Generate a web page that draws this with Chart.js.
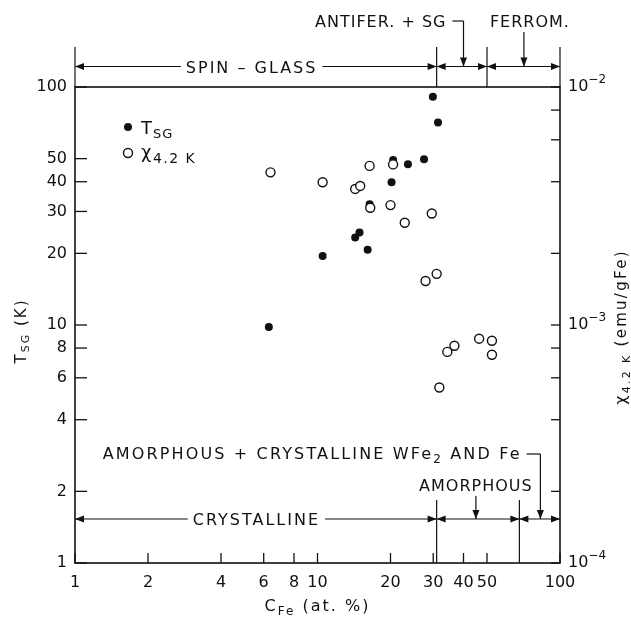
<!DOCTYPE html>
<html>
<head>
<meta charset="utf-8">
<title>T_SG and chi(4.2K) vs Fe concentration</title>
<script src="https://cdn.jsdelivr.net/npm/chart.js@4.4.0/dist/chart.umd.min.js"></script>
<style>
  html, body { margin: 0; padding: 0; background: #ffffff; }
  canvas { display: block; }
</style>
</head>
<body>
<canvas id="chart" width="631" height="617"></canvas>
<script>
// Axis ticks
const concTicks = [1, 2, 4, 6, 8, 10, 20, 30, 40, 50, 100];
const tsgTicks = [1, 2, 4, 6, 8, 10, 20, 30, 40, 50, 100];
const chiTicks = [1e-4, 2e-4, 4e-4, 6e-4, 8e-4, 1e-3, 2e-3, 4e-3, 6e-3, 8e-3, 1e-2];
const chiDecades = [1e-4, 1e-3, 1e-2];
const chiDecadeExps = ['−4', '−3', '−2'];

// Spin-glass temperature (filled circles, left axis)
const tsgConc = [6.3, 10.5, 14.3, 14.9, 16.1, 16.4, 20.2, 20.5, 23.6, 27.5, 29.9, 31.4];
const tsgValues = [9.8, 19.5, 23.3, 24.5, 20.7, 32.2, 39.8, 49.3, 47.4, 49.7, 91, 71];

// Susceptibility at 4.2 K (open circles, right axis, emu/gFe)
const chiConc = [6.4, 10.5, 14.3, 15.0, 16.4, 16.5, 20.0, 20.5, 22.9, 27.9, 29.6, 31.0, 31.8, 34.3, 36.7, 46.4, 52.4, 52.4];
const chiValues = [4.38e-3, 3.98e-3, 3.73e-3, 3.84e-3, 4.66e-3, 3.11e-3, 3.19e-3, 4.73e-3, 2.69e-3,
    1.53e-3, 2.94e-3, 1.64e-3, 5.46e-4, 7.71e-4, 8.18e-4, 8.76e-4, 8.59e-4, 7.50e-4];

// Region boundaries (at. % Fe)
const magneticBounds = [1, 31, 50, 100];
const structureBounds = [1, 31, 68, 100];
const antiferArrowAt = 40;
const ferroArrowAt = 71;
const amorphousArrowAt = 45;
const mixedArrowAt = 83;

const FONT = '"DejaVu Sans", sans-serif';
const font = (size) => size + 'px ' + FONT;

function richText(ctx, parts, x, y, align, spacing) {
    ctx.save();
    ctx.letterSpacing = (spacing || 0) + 'px';
    ctx.textBaseline = 'alphabetic';
    ctx.textAlign = 'left';
    let width = 0;
    for (const p of parts) {
        ctx.font = font(p.size);
        width += ctx.measureText(p.text).width;
    }
    let cx = align === 'center' ? x - width / 2 : (align === 'right' ? x - width : x);
    for (const p of parts) {
        ctx.font = font(p.size);
        ctx.fillText(p.text, cx, y + (p.dy || 0));
        cx += ctx.measureText(p.text).width;
    }
    ctx.restore();
    return width;
}

function arrowHead(ctx, x, y, dir) {
    const len = 9, half = 3.5;
    ctx.beginPath();
    ctx.moveTo(x, y);
    if (dir === 'left') { ctx.lineTo(x + len, y - half); ctx.lineTo(x + len, y + half); }
    if (dir === 'right') { ctx.lineTo(x - len, y - half); ctx.lineTo(x - len, y + half); }
    if (dir === 'down') { ctx.lineTo(x - half, y - len); ctx.lineTo(x + half, y - len); }
    ctx.closePath();
    ctx.fill();
}

function segment(ctx, x1, y1, x2, y2) {
    ctx.beginPath();
    ctx.moveTo(x1, y1);
    ctx.lineTo(x2, y2);
    ctx.stroke();
}

function regionRow(ctx, xScale, bounds, y) {
    for (let i = 0; i < bounds.length - 1; i++) {
        const a = xScale.getPixelForValue(bounds[i]);
        const b = xScale.getPixelForValue(bounds[i + 1]);
        segment(ctx, a, y, b, y);
        arrowHead(ctx, a, y, 'left');
        arrowHead(ctx, b, y, 'right');
    }
}

function gapLabel(ctx, text, x, y) {
    ctx.save();
    ctx.font = font(16);
    ctx.letterSpacing = '2px';
    const w = ctx.measureText(text).width;
    ctx.fillStyle = '#ffffff';
    ctx.fillRect(x - w / 2 - 5, y - 5, w + 10, 10);
    ctx.restore();
    richText(ctx, [{ text, size: 16 }], x, y + 6, 'center', 2);
}

const decorations = {
    id: 'decorations',
    afterDraw(chart) {
        const ctx = chart.ctx;
        const area = chart.chartArea;
        const xs = chart.scales.x;
        const ys = chart.scales.y;
        const ys2 = chart.scales.y2;
        ctx.save();
        ctx.strokeStyle = '#111111';
        ctx.fillStyle = '#111111';

        // frame
        ctx.lineWidth = 1.6;
        ctx.strokeRect(area.left, area.top, area.right - area.left, area.bottom - area.top);

        // inward tick marks
        ctx.lineWidth = 1.3;
        concTicks.forEach((v) => {
            const px = xs.getPixelForValue(v);
            segment(ctx, px, area.bottom, px, area.bottom - 10);
        });
        tsgTicks.forEach((v) => {
            const py = ys.getPixelForValue(v);
            segment(ctx, area.left, py, area.left + 12, py);
        });
        chiTicks.forEach((v) => {
            const py = ys2.getPixelForValue(v);
            segment(ctx, area.right, py, area.right - 9, py);
        });

        // right axis decade labels
        chiDecades.forEach((v, i) => {
            const py = ys2.getPixelForValue(v);
            richText(ctx, [
                { text: '10', size: 16 },
                { text: chiDecadeExps[i], size: 12, dy: -8 },
            ], area.right + 8, py + 4, 'left', 0);
        });

        // axis titles
        ctx.save();
        ctx.translate(20, (area.top + area.bottom) / 2 + 6);
        ctx.rotate(-Math.PI / 2);
        richText(ctx, [
            { text: 'T', size: 15 },
            { text: 'SG', size: 11, dy: 3 },
            { text: ' (K)', size: 15 },
        ], 0, 5.5, 'center', 2);
        ctx.restore();

        ctx.save();
        ctx.translate(620, (area.top + area.bottom) / 2 + 2);
        ctx.rotate(-Math.PI / 2);
        richText(ctx, [
            { text: 'χ', size: 16 },
            { text: '4.2 K', size: 11, dy: 4 },
            { text: ' (emu/gFe)', size: 15 },
        ], 0, 5.5, 'center', 2.3);
        ctx.restore();

        richText(ctx, [
            { text: 'C', size: 16 },
            { text: 'Fe', size: 12, dy: 4 },
            { text: ' (at. %)', size: 16 },
        ], (area.left + area.right) / 2, 611, 'center', 2);

        // legend
        ctx.lineWidth = 1.4;
        ctx.beginPath();
        ctx.arc(area.left + 53, area.top + 40, 4, 0, Math.PI * 2);
        ctx.fill();
        richText(ctx, [{ text: 'T', size: 18 }, { text: 'SG', size: 13, dy: 4 }], area.left + 66, area.top + 46.5, 'left', 1);
        ctx.beginPath();
        ctx.arc(area.left + 53, area.top + 66, 4.5, 0, Math.PI * 2);
        ctx.stroke();
        richText(ctx, [{ text: 'χ', size: 18 }, { text: '4.2 K', size: 14, dy: 5 }], area.left + 66, area.top + 71, 'left', 1.5);

        // magnetic regions above the frame
        ctx.lineWidth = 1.2;
        const topRowY = area.top - 20.5;
        magneticBounds.forEach((v) => {
            const px = xs.getPixelForValue(v);
            segment(ctx, px, area.top - 40, px, area.top);
        });
        regionRow(ctx, xs, magneticBounds, topRowY);
        gapLabel(ctx, 'SPIN – GLASS', xs.getPixelForValue(5.35), topRowY);

        const antiX = xs.getPixelForValue(antiferArrowAt);
        richText(ctx, [{ text: 'ANTIFER. + SG', size: 16 }], antiX - 17, area.top - 60, 'right', 1);
        segment(ctx, antiX - 11, area.top - 66, antiX, area.top - 66);
        segment(ctx, antiX, area.top - 66, antiX, topRowY);
        arrowHead(ctx, antiX, topRowY, 'down');

        const ferroX = xs.getPixelForValue(ferroArrowAt);
        richText(ctx, [{ text: 'FERROM.', size: 16 }], ferroX + 6, area.top - 60, 'center', 1);
        segment(ctx, ferroX, area.top - 55, ferroX, topRowY);
        arrowHead(ctx, ferroX, topRowY, 'down');

        // structural regions inside the frame
        const lowRowY = area.bottom - 44;
        structureBounds.slice(1, -1).forEach((v) => {
            const px = xs.getPixelForValue(v);
            segment(ctx, px, area.bottom - 63, px, area.bottom);
        });
        regionRow(ctx, xs, structureBounds, lowRowY);
        gapLabel(ctx, 'CRYSTALLINE', xs.getPixelForValue(5.6), lowRowY);

        const amoX = xs.getPixelForValue(amorphousArrowAt);
        richText(ctx, [{ text: 'AMORPHOUS', size: 16 }], amoX, area.bottom - 72, 'center', 1);
        segment(ctx, amoX, area.bottom - 67, amoX, lowRowY);
        arrowHead(ctx, amoX, lowRowY, 'down');

        const mixX = xs.getPixelForValue(mixedArrowAt);
        const mixStart = xs.getPixelForValue(1.3);
        const mixEnd = mixStart + richText(ctx, [
            { text: 'AMORPHOUS + CRYSTALLINE WFe', size: 16 },
            { text: '2', size: 12, dy: 4 },
            { text: ' AND Fe', size: 16 },
        ], mixStart, area.bottom - 104, 'left', 2.15);
        segment(ctx, mixEnd + 5, area.bottom - 109, mixX, area.bottom - 109);
        segment(ctx, mixX, area.bottom - 109, mixX, lowRowY);
        arrowHead(ctx, mixX, lowRowY, 'down');

        ctx.restore();
    },
};

const hideGrid = { display: false, drawTicks: false };

new Chart(document.getElementById('chart'), {
    type: 'scatter',
    data: {
        datasets: [
            {
                label: 'TSG',
                data: tsgConc.map((c, i) => ({ x: c, y: tsgValues[i] })),
                yAxisID: 'y',
                pointRadius: 4,
                pointBackgroundColor: '#111111',
                pointBorderWidth: 0,
                order: 1,
            },
            {
                label: 'chi 4.2K',
                data: chiConc.map((c, i) => ({ x: c, y: chiValues[i] })),
                yAxisID: 'y2',
                pointRadius: 4.5,
                pointBackgroundColor: '#ffffff',
                pointBorderColor: '#111111',
                pointBorderWidth: 1.4,
                order: 0,
            },
        ],
    },
    options: {
        responsive: false,
        animation: false,
        devicePixelRatio: 1,
        layout: { padding: { top: 87, left: 0, right: 0, bottom: 0 } },
        plugins: { legend: { display: false }, tooltip: { enabled: false } },
        scales: {
            x: {
                type: 'logarithmic',
                min: 1,
                max: 100,
                grid: hideGrid,
                border: { display: false },
                afterBuildTicks: (scale) => { scale.ticks = concTicks.map((value) => ({ value })); },
                afterFit: (scale) => { scale.height = 54; },
                ticks: {
                    autoSkip: false,
                    maxRotation: 0,
                    padding: 10,
                    color: '#111111',
                    font: { family: FONT, size: 16 },
                    callback: (value) => String(value),
                },
            },
            y: {
                type: 'logarithmic',
                position: 'left',
                min: 1,
                max: 100,
                grid: hideGrid,
                border: { display: false },
                afterBuildTicks: (scale) => { scale.ticks = tsgTicks.map((value) => ({ value })); },
                afterFit: (scale) => { scale.width = 75; },
                ticks: {
                    autoSkip: false,
                    padding: 8,
                    color: '#111111',
                    font: { family: FONT, size: 16 },
                    callback: (value) => String(value),
                },
            },
            y2: {
                type: 'logarithmic',
                position: 'right',
                min: 1e-4,
                max: 1e-2,
                grid: hideGrid,
                border: { display: false },
                afterBuildTicks: (scale) => { scale.ticks = chiTicks.map((value) => ({ value })); },
                afterFit: (scale) => { scale.width = 71; },
                ticks: { display: false },
            },
        },
    },
    plugins: [decorations],
});
</script>
</body>
</html>
